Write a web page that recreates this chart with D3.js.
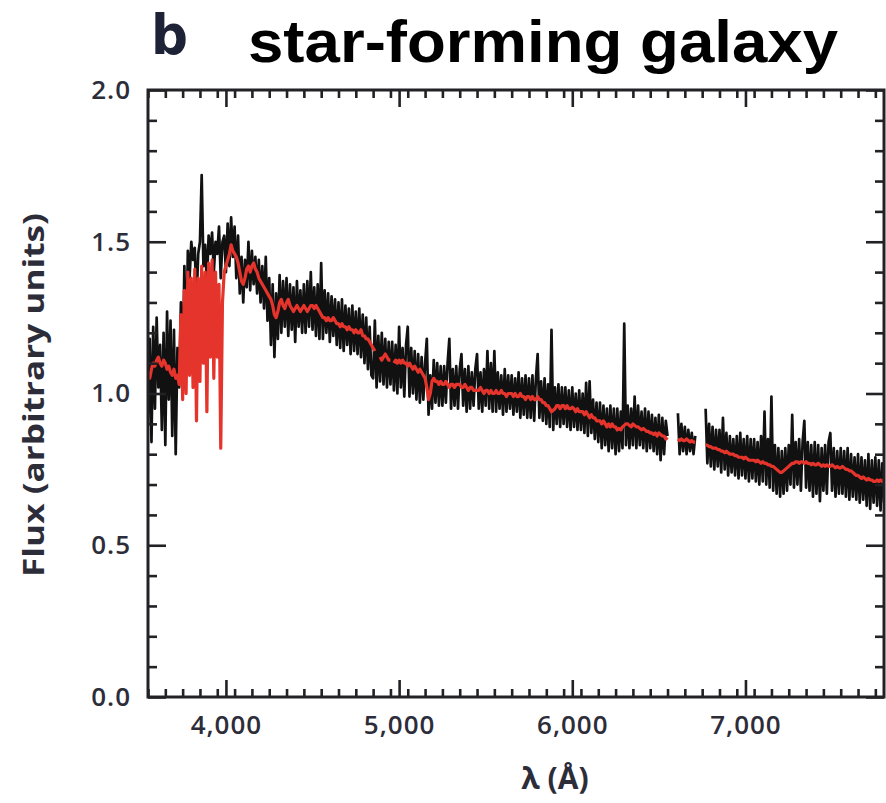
<!DOCTYPE html>
<html>
<head>
<meta charset="utf-8">
<script src="https://cdn.jsdelivr.net/npm/d3@7"></script>
<style>
  body { margin: 0; background: #fff; }
  svg { display: block; }
</style>
</head>
<body>
<svg id="chart" width="886" height="803"></svg>
<script>
// Spectrum sampled on a uniform wavelength grid (Å): lambda = start + i * step
const LAMBDA_START = 3550;
const LAMBDA_STEP = 10;

// Observed flux (arbitrary units); null marks masked pixels
const observedFlux = [
  0.90, 1.18, 0.84, 1.22, 0.95, 1.25, 1.02, 1.16, 0.88, 1.20,   // 3550
  0.83, 1.27, 0.98, 1.24, 0.86, 1.21, 0.80, 1.15, 1.02, 1.30,   // 3650
  1.05, 1.42, 1.10, 1.47, 1.38, 1.50, 1.44, 1.48, 1.30, 1.46,   // 3750
  1.50, 1.72, 1.42, 1.49, 1.36, 1.52, 1.46, 1.53, 1.40, 1.50,   // 3850
  1.46, 1.55, 1.38, 1.50, 1.52, 1.40, 1.56, 1.42, 1.58, 1.45,   // 3950
  1.55, 1.38, 1.52, 1.33, 1.45, 1.30, 1.44, 1.35, 1.50, 1.34,   // 4050
  1.47, 1.36, 1.45, 1.33, 1.44, 1.30, 1.42, 1.28, 1.45, 1.24,   // 4150
  1.38, 1.16, 1.36, 1.12, 1.33, 1.18, 1.39, 1.20, 1.37, 1.22,   // 4250
  1.38, 1.19, 1.36, 1.21, 1.35, 1.17, 1.37, 1.22, 1.34, 1.20,   // 4350
  1.36, 1.20, 1.37, 1.22, 1.40, 1.21, 1.35, 1.19, 1.36, 1.18,   // 4450
  1.43, 1.18, 1.34, 1.20, 1.33, 1.17, 1.32, 1.19, 1.31, 1.16,   // 4550
  1.30, 1.15, 1.31, 1.14, 1.29, 1.16, 1.28, 1.13, 1.29, 1.14,   // 4650
  1.27, 1.13, 1.28, 1.12, 1.26, 1.10, 1.25, 1.08, 1.22, 1.06,   // 4750
  1.05, 1.24, 1.02, 1.19, 1.04, 1.20, 1.03, 1.18, 1.02, 1.17,   // 4850
  1.03, 1.17, 1.01, 1.16, 1.00, 1.22, 1.02, 1.15, 0.99, 1.16,   // 4950
  1.22, 0.99, 1.15, 1.00, 1.14, 0.98, 1.13, 0.97, 1.12, 0.98,   // 5050
  1.10, 1.18, 0.93, 1.06, 0.95, 1.11, 0.97, 1.10, 0.96, 1.09,   // 5150
  0.96, 1.09, 0.97, 1.10, 1.18, 0.95, 1.08, 0.96, 1.09, 0.95,   // 5250
  1.08, 1.13, 0.96, 1.08, 0.94, 1.09, 0.95, 1.07, 0.96, 1.08,   // 5350
  1.13, 0.95, 1.07, 0.94, 1.08, 0.96, 1.14, 0.95, 1.10, 0.94,   // 5450
  1.14, 0.94, 1.07, 0.95, 1.06, 0.93, 1.08, 0.94, 1.06, 0.95,   // 5550
  1.06, 0.93, 1.05, 0.94, 1.07, 0.92, 1.05, 0.93, 1.06, 0.92,   // 5650
  1.05, 0.92, 1.06, 0.91, 1.05, 1.13, 0.92, 1.04, 0.91, 1.05,   // 5750
  0.90, 1.03, 0.89, 1.21, 0.88, 1.02, 0.90, 1.03, 0.89, 1.02,   // 5850
  0.90, 1.02, 0.89, 1.01, 0.88, 1.02, 0.89, 1.00, 0.88, 1.01,   // 5950
  0.88, 1.00, 0.87, 1.035, 0.86, 1.04, 0.87, 0.98, 0.85, 0.97,  // 6050
  0.84, 0.97, 0.82, 0.96, 0.83, 0.95, 0.81, 0.96, 0.82, 0.95,   // 6150
  0.80, 0.95, 0.81, 0.94, 0.82, 1.23, 0.83, 0.96, 0.82, 0.95,   // 6250
  0.83, 0.99, 0.82, 0.96, 0.83, 0.94, 0.82, 0.95, 0.81, 0.94,   // 6350
  0.82, 0.93, 0.81, 0.92, 0.80, 0.93, 0.78, 0.92, 0.80, 0.91,   // 6450
  0.86, null, null, null, null, null, 0.935, 0.80, 0.90, 0.81,  // 6550
  0.89, 0.80, 0.88, 0.81, 0.87, 0.80, 0.86, null, null, null,   // 6650
  null, null, 0.95, 0.77, 0.90, 0.76, 0.89, 0.75, 0.88, 0.76,   // 6750
  0.88, 0.74, 0.92, 0.75, 0.87, 0.73, 0.86, 0.74, 0.85, 0.73,   // 6850
  0.86, 0.72, 0.87, 0.73, 0.85, 0.72, 0.86, 0.71, 0.85, 0.72,   // 6950
  0.85, 0.71, 0.84, 0.70, 0.86, 0.71, 0.94, 0.70, 0.85, 0.69,   // 7050
  0.99, 0.68, 0.83, 0.67, 0.82, 0.66, 0.81, 0.67, 0.82, 0.68,   // 7150
  0.83, 0.70, 0.93, 0.69, 0.84, 0.70, 0.85, 0.68, 0.84, 0.91,   // 7250
  0.69, 0.84, 0.68, 0.83, 0.66, 0.84, 0.67, 0.83, 0.645, 0.82,  // 7350
  0.68, 0.83, 0.67, 0.84, 0.87, 0.68, 0.82, 0.66, 0.81, 0.67,   // 7450
  0.82, 0.67, 0.81, 0.66, 0.82, 0.65, 0.80, 0.66, 0.79, 0.65,   // 7550
  0.80, 0.64, 0.79, 0.65, 0.78, 0.63, 0.80, 0.62, 0.78, 0.64,   // 7650
  0.79, 0.63, 0.78, 0.615, 0.77, 0.64                           // 7750
];

// Best-fit stellar population model on the same grid
const modelFlux = [
  1.07, 1.05, 1.08, 1.10, 1.09, 1.11, 1.12, 1.10, 1.09, 1.11,   // 3550
  1.10, 1.08, 1.09, 1.07, 1.06, 1.08, 1.05, 1.06, 1.03, 1.26,   // 3650
  0.98, 1.34, 1.00, 1.40, 1.06, 1.38, 1.02, 1.41, 0.91, 1.38,   // 3750
  1.04, 1.42, 1.10, 1.40, 0.94, 1.43, 1.12, 1.44, 1.05, 1.40,   // 3850
  1.12, 1.36, 0.82, 1.30, 1.40, 1.42, 1.44, 1.46, 1.49, 1.47,   // 3950
  1.46, 1.45, 1.43, 1.40, 1.37, 1.36, 1.38, 1.41, 1.42, 1.40,   // 4050
  1.42, 1.43, 1.41, 1.40, 1.38, 1.37, 1.36, 1.35, 1.34, 1.33,   // 4150
  1.32, 1.31, 1.29, 1.26, 1.25, 1.27, 1.30, 1.31, 1.29, 1.28,   // 4250
  1.30, 1.31, 1.29, 1.28, 1.27, 1.28, 1.29, 1.28, 1.27, 1.28,   // 4350
  1.29, 1.28, 1.27, 1.28, 1.29, 1.29, 1.28, 1.29, 1.28, 1.27,   // 4450
  1.26, 1.25, 1.25, 1.24, 1.25, 1.24, 1.24, 1.25, 1.24, 1.23,   // 4550
  1.23, 1.22, 1.23, 1.22, 1.22, 1.21, 1.22, 1.21, 1.21, 1.20,   // 4650
  1.21, 1.20, 1.20, 1.21, 1.19, 1.19, 1.18, 1.18, 1.17, 1.16,   // 4750
  1.15, 1.14, null, null, 1.12, 1.11, 1.12, 1.13, 1.12, 1.11,   // 4850
  1.11, null, 1.10, 1.11, 1.10, 1.11, 1.10, 1.11, 1.10, 1.10,   // 4950
  1.09, 1.10, 1.09, 1.08, 1.09, 1.08, 1.07, 1.08, 1.07, 1.06,   // 5050
  1.05, 1.02, 0.98, 1.00, 1.04, 1.05, 1.04, 1.04, 1.03, 1.04,   // 5150
  1.03, 1.03, 1.04, 1.03, 1.02, 1.03, 1.03, 1.02, 1.03, 1.03,   // 5250
  1.03, 1.02, 1.02, 1.03, 1.02, 1.01, 1.02, 1.02, 1.01, 1.01,   // 5350
  1.01, 1.01, 1.02, 1.01, 1.00, 1.01, 1.01, 1.00, 1.01, 1.00,   // 5450
  1.00, 1.01, 1.00, 1.00, 1.01, 1.00, 1.00, 0.99, 1.00, 1.00,   // 5550
  1.00, 0.99, 1.00, 0.99, 0.99, 1.00, 0.99, 0.99, 0.98, 0.99,   // 5650
  0.99, 0.98, 0.99, 0.98, 0.98, 0.99, 0.98, 0.98, 0.97, 0.97,   // 5750
  0.96, 0.96, 0.95, 0.94, 0.945, 0.95, 0.96, 0.96, 0.95, 0.96,  // 5850
  0.96, 0.95, 0.96, 0.95, 0.95, 0.955, 0.95, 0.94, 0.95, 0.94,  // 5950
  0.94, 0.94, 0.93, 0.94, 0.93, 0.92, 0.93, 0.92, 0.92, 0.91,   // 6050
  0.91, 0.91, 0.90, 0.91, 0.90, 0.89, 0.90, 0.89, 0.90, 0.89,   // 6150
  0.89, 0.88, 0.885, 0.88, 0.89, 0.895, 0.90, 0.90, 0.895, 0.89, // 6250
  0.90, 0.895, 0.89, 0.89, 0.885, 0.88, 0.885, 0.88, 0.875, 0.875, // 6350
  0.87, 0.87, 0.865, 0.87, 0.86, 0.87, 0.865, 0.86, 0.86, 0.85, // 6450
  0.855, null, null, null, null, null, 0.85, 0.845, 0.85, 0.845, // 6550
  0.845, 0.85, 0.845, 0.84, 0.845, 0.84, 0.84, null, null, null, // 6650
  null, null, 0.83, 0.83, 0.825, 0.825, 0.82, 0.82, 0.82, 0.815, // 6750
  0.815, 0.81, 0.81, 0.805, 0.81, 0.805, 0.80, 0.80, 0.80, 0.795, // 6850
  0.795, 0.79, 0.79, 0.79, 0.785, 0.79, 0.785, 0.78, 0.78, 0.78, // 6950
  0.78, 0.775, 0.78, 0.775, 0.77, 0.775, 0.77, 0.77, 0.765, 0.765, // 7050
  0.76, 0.76, 0.755, 0.75, 0.745, 0.74, 0.74, 0.745, 0.75, 0.755, // 7150
  0.76, 0.765, 0.77, 0.77, 0.775, 0.775, 0.77, 0.775, 0.775, 0.77, // 7250
  0.775, 0.77, 0.77, 0.765, 0.77, 0.765, 0.765, 0.77, 0.765, 0.76, // 7350
  0.765, 0.76, 0.765, 0.76, 0.76, 0.765, 0.76, 0.755, 0.76, 0.755, // 7450
  0.755, 0.76, 0.755, 0.75, 0.75, 0.745, 0.745, 0.74, 0.735, 0.73, // 7550
  0.73, 0.725, 0.72, 0.725, 0.72, 0.715, 0.72, 0.715, 0.715, 0.71, // 7650
  0.71, 0.715, 0.71, 0.715, 0.71, 0.715                          // 7750
];

// Axis extents and labelled ticks
const xDomain = [3550, 7800];
const yDomain = [0, 2];
const xTickValues = [4000, 5000, 6000, 7000];
const yTickValues = [0, 0.5, 1.0, 1.5, 2.0];
const xMinorStep = 100;
const yMinorStep = 0.1;

const panelLetter = "b";
const titleText = "star-forming galaxy";
const xTitle = "λ (Å)";
const yTitle = "Flux (arbitrary units)";

// Layout
const frame = { left: 148, right: 884, top: 90, bottom: 697 };
const INK = "#222226";
const LABEL = "#2d2d3a";

const svg = d3.select("#chart");

const x = d3.scaleLinear().domain(xDomain).range([frame.left, frame.right]);
const y = d3.scaleLinear().domain(yDomain).range([frame.bottom, frame.top]);

const toPoints = arr => arr.map((f, i) => ({ lambda: LAMBDA_START + i * LAMBDA_STEP, flux: f }));
const observed = toPoints(observedFlux);
const model = toPoints(modelFlux);

svg.append("defs").append("clipPath").attr("id", "plot-clip")
  .append("rect")
  .attr("x", frame.left).attr("y", frame.top)
  .attr("width", frame.right - frame.left)
  .attr("height", frame.bottom - frame.top);

const line = d3.line()
  .defined(d => d.flux != null)
  .x(d => x(d.lambda))
  .y(d => y(d.flux));

const plot = svg.append("g").attr("clip-path", "url(#plot-clip)");

plot.append("path")
  .datum(observed)
  .attr("fill", "none")
  .attr("stroke", "#111")
  .attr("stroke-width", 2.7)
  .attr("stroke-linejoin", "round")
  .attr("d", line);

plot.append("path")
  .datum(model)
  .attr("fill", "none")
  .attr("stroke", "#e5342c")
  .attr("stroke-width", 3.2)
  .attr("stroke-linejoin", "round")
  .attr("d", line);

// Ticks point inward on all four sides
const xMinor = d3.range(xDomain[0], xDomain[1] + 1, xMinorStep).filter(v => !xTickValues.includes(v));
const yMinor = d3.range(yDomain[0], yDomain[1] + 1e-9, yMinorStep)
  .map(v => +v.toFixed(2)).filter(v => !yTickValues.some(t => Math.abs(t - v) < 1e-6));

function styleAxis(g) {
  g.select(".domain").remove();
  g.selectAll(".tick line").attr("stroke", INK).attr("stroke-width", 2.6);
}

const fmtX = d3.format(",");
const fmtY = d3.format(".1f");

// bottom
svg.append("g").attr("transform", `translate(0,${frame.bottom})`)
  .call(d3.axisBottom(x).tickValues(xMinor).tickSize(-8).tickFormat(""))
  .call(styleAxis);
const xAxisG = svg.append("g").attr("transform", `translate(0,${frame.bottom})`)
  .call(d3.axisBottom(x).tickValues(xTickValues).tickSize(-17).tickPadding(19).tickFormat(fmtX))
  .call(styleAxis);
// top
svg.append("g").attr("transform", `translate(0,${frame.top})`)
  .call(d3.axisTop(x).tickValues(xMinor).tickSize(-8).tickFormat(""))
  .call(styleAxis);
svg.append("g").attr("transform", `translate(0,${frame.top})`)
  .call(d3.axisTop(x).tickValues(xTickValues).tickSize(-17).tickFormat(""))
  .call(styleAxis);
// left
svg.append("g").attr("transform", `translate(${frame.left},0)`)
  .call(d3.axisLeft(y).tickValues(yMinor).tickSize(-9).tickFormat(""))
  .call(styleAxis);
const yAxisG = svg.append("g").attr("transform", `translate(${frame.left},0)`)
  .call(d3.axisLeft(y).tickValues(yTickValues).tickSize(-18).tickPadding(17).tickFormat(fmtY))
  .call(styleAxis);
// right
svg.append("g").attr("transform", `translate(${frame.right},0)`)
  .call(d3.axisRight(y).tickValues(yMinor).tickSize(-9).tickFormat(""))
  .call(styleAxis);
svg.append("g").attr("transform", `translate(${frame.right},0)`)
  .call(d3.axisRight(y).tickValues(yTickValues).tickSize(-18).tickFormat(""))
  .call(styleAxis);

[xAxisG, yAxisG].forEach(g => g.selectAll(".tick text")
  .attr("fill", LABEL)
  .style("font-family", "'Open Sans', 'Noto Sans', sans-serif")
  .style("font-weight", 600)
  .style("font-size", "26px")
  .style("letter-spacing", "1px"));

// frame
svg.append("rect")
  .attr("x", frame.left).attr("y", frame.top)
  .attr("width", frame.right - frame.left)
  .attr("height", frame.bottom - frame.top)
  .attr("fill", "none")
  .attr("stroke", INK)
  .attr("stroke-width", 3);

// axis titles
svg.append("text")
  .attr("transform", "translate(44,395) rotate(-90)")
  .attr("text-anchor", "middle")
  .attr("fill", LABEL)
  .style("font-family", "'Open Sans', 'Noto Sans', sans-serif")
  .style("font-weight", 700)
  .style("font-size", "28px")
  .attr("textLength", 364)
  .attr("lengthAdjust", "spacingAndGlyphs")
  .text(yTitle);

svg.append("text")
  .attr("x", 555).attr("y", 789)
  .attr("text-anchor", "middle")
  .attr("fill", LABEL)
  .style("font-family", "'Open Sans', 'Noto Sans', sans-serif")
  .style("font-weight", 700)
  .style("font-size", "30px")
  .text(xTitle);

// panel letter and title
svg.append("text")
  .attr("x", 151).attr("y", 54)
  .attr("fill", "#1e2236")
  .style("font-family", "'DejaVu Sans', sans-serif")
  .style("font-weight", 700)
  .style("font-size", "56px")
  .attr("textLength", 37)
  .attr("lengthAdjust", "spacingAndGlyphs")
  .text(panelLetter);

svg.append("text")
  .attr("x", 248).attr("y", 62)
  .attr("fill", "#000")
  .style("font-family", "'Liberation Sans', Arial, Helvetica, sans-serif")
  .style("font-weight", 700)
  .style("font-size", "60px")
  .attr("textLength", 590)
  .attr("lengthAdjust", "spacingAndGlyphs")
  .text(titleText);
</script>
</body>
</html>
